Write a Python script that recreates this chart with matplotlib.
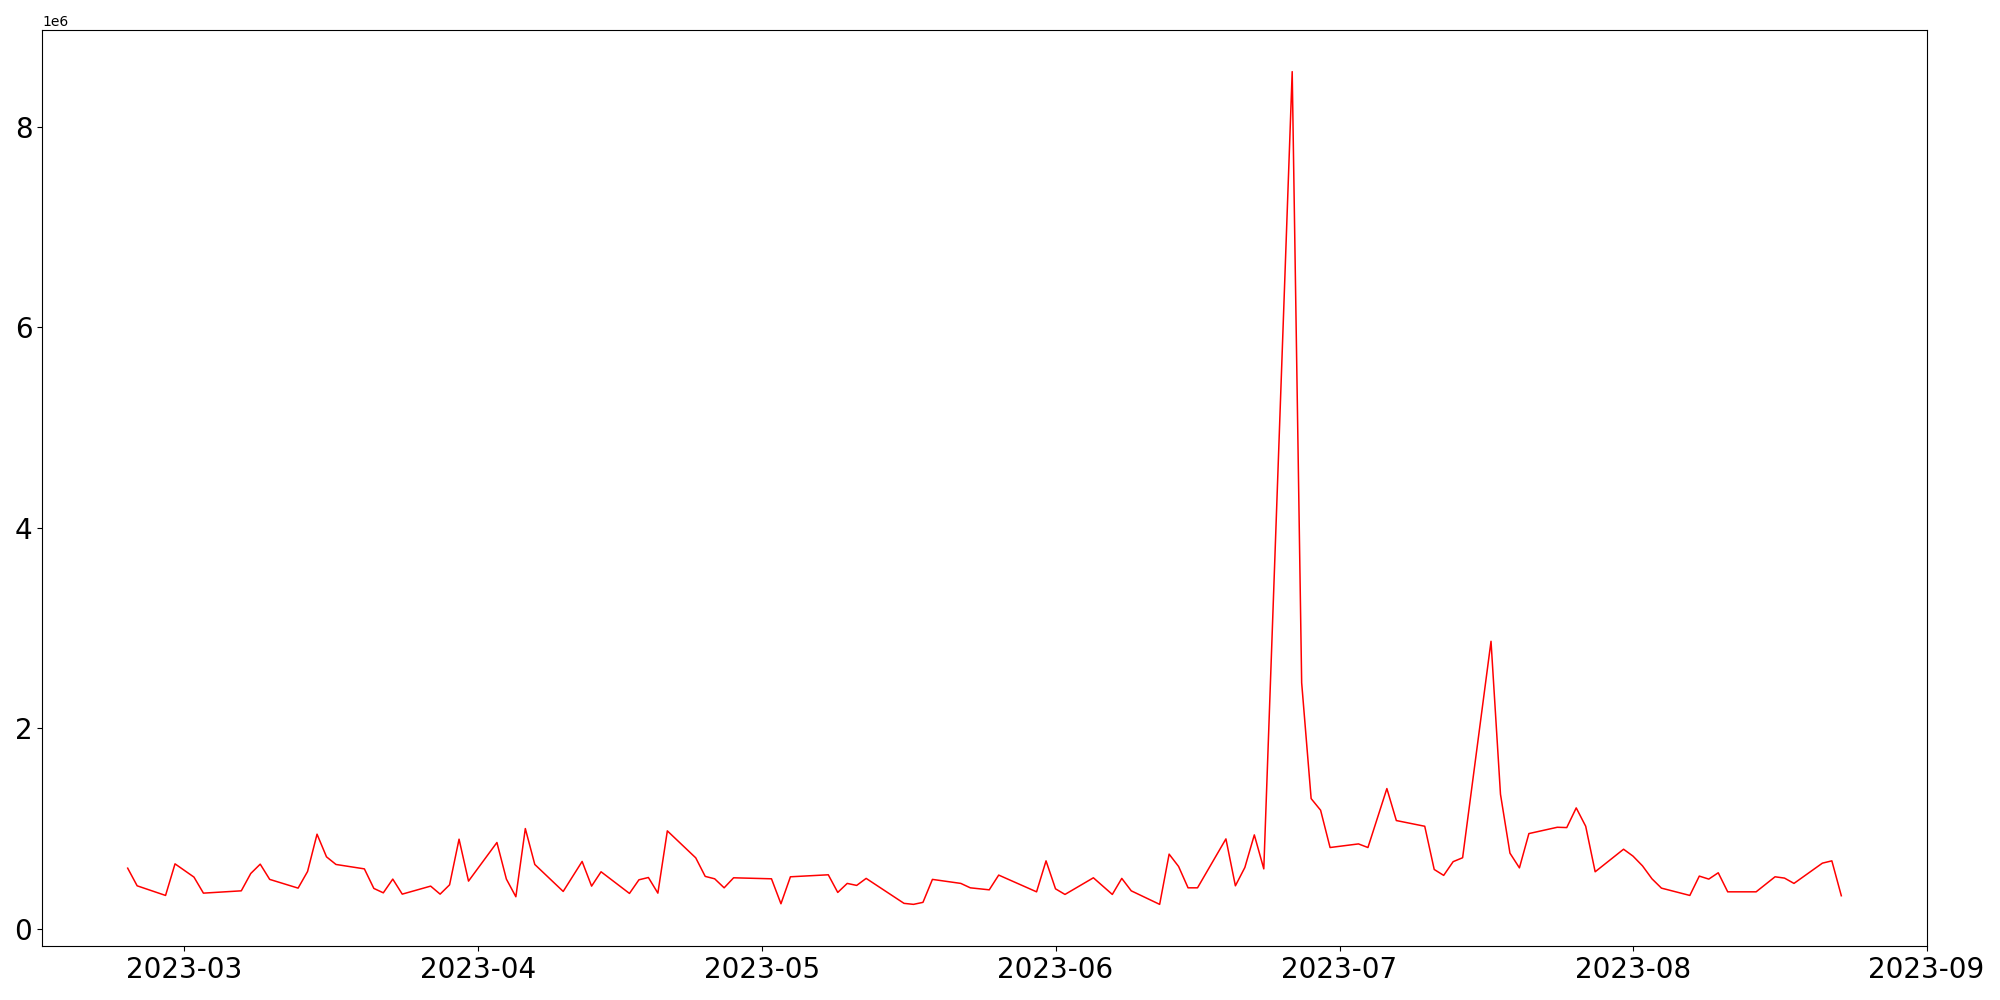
import pandas as pd
import matplotlib
matplotlib.use("Agg")
import matplotlib.pyplot as plt

# daily values (irregular business days)
dates = [
    "2023-02-23", "2023-02-24", "2023-02-27", "2023-02-28", "2023-03-02",
    "2023-03-03", "2023-03-07", "2023-03-08", "2023-03-09", "2023-03-10",
    "2023-03-13", "2023-03-14", "2023-03-15", "2023-03-16", "2023-03-17",
    "2023-03-20", "2023-03-21", "2023-03-22", "2023-03-23", "2023-03-24",
    "2023-03-27", "2023-03-28", "2023-03-29", "2023-03-30", "2023-03-31",
    "2023-04-03", "2023-04-04", "2023-04-05", "2023-04-06", "2023-04-07",
    "2023-04-10", "2023-04-12", "2023-04-13", "2023-04-14", "2023-04-17",
    "2023-04-18", "2023-04-19", "2023-04-20", "2023-04-21", "2023-04-24",
    "2023-04-25", "2023-04-26", "2023-04-27", "2023-04-28", "2023-05-02",
    "2023-05-03", "2023-05-04", "2023-05-08", "2023-05-09", "2023-05-10",
    "2023-05-11", "2023-05-12", "2023-05-16", "2023-05-17", "2023-05-18",
    "2023-05-19", "2023-05-22", "2023-05-23", "2023-05-25", "2023-05-26",
    "2023-05-30", "2023-05-31", "2023-06-01", "2023-06-02", "2023-06-05",
    "2023-06-07", "2023-06-08", "2023-06-09", "2023-06-12", "2023-06-13",
    "2023-06-14", "2023-06-15", "2023-06-16", "2023-06-19", "2023-06-20",
    "2023-06-21", "2023-06-22", "2023-06-23", "2023-06-26", "2023-06-27",
    "2023-06-28", "2023-06-29", "2023-06-30", "2023-07-03", "2023-07-04",
    "2023-07-06", "2023-07-07", "2023-07-10", "2023-07-11", "2023-07-12",
    "2023-07-13", "2023-07-14", "2023-07-17", "2023-07-18", "2023-07-19",
    "2023-07-20", "2023-07-21", "2023-07-24", "2023-07-25", "2023-07-26",
    "2023-07-27", "2023-07-28", "2023-07-31", "2023-08-01", "2023-08-02",
    "2023-08-03", "2023-08-04", "2023-08-07", "2023-08-08", "2023-08-09",
    "2023-08-10", "2023-08-11", "2023-08-14", "2023-08-16", "2023-08-17",
    "2023-08-18", "2023-08-21", "2023-08-22", "2023-08-23",
]
values = [
    606000, 430000, 334000, 649000, 517000,
    357000, 380000, 553000, 646000, 494000,
    407000, 573000, 945000, 719000, 643000,
    599000, 404000, 360000, 497000, 347000,
    427000, 347000, 440000, 895000, 477000,
    862000, 497000, 321000, 1001000, 643000,
    374000, 673000, 427000, 570000, 354000,
    490000, 513000, 357000, 978000, 709000,
    524000, 500000, 410000, 510000, 500000,
    251000, 520000, 540000, 364000, 454000,
    434000, 504000, 255000, 245000, 265000,
    494000, 454000, 410000, 390000, 537000,
    370000, 679000, 400000, 344000, 510000,
    344000, 504000, 380000, 245000, 746000,
    623000, 410000, 410000, 898000, 430000,
    613000, 938000, 599000, 8551000, 2455000,
    1300000, 1184000, 812000, 848000, 812000,
    1400000, 1081000, 1024000, 593000, 534000,
    671000, 710000, 2869000, 1343000, 756000,
    609000, 951000, 1014000, 1011000, 1207000,
    1024000, 570000, 795000, 726000, 629000,
    500000, 407000, 334000, 527000, 497000,
    560000, 370000, 370000, 520000, 507000,
    454000, 656000, 679000, 331000,
]

x = pd.to_datetime(dates)

fig, ax = plt.subplots(figsize=(20, 10), dpi=100)
ax.plot(x, values, color="red", lw=1.1)
ax.tick_params(labelsize=20)
fig.subplots_adjust(left=0.021, right=0.9635, bottom=0.054, top=0.97)
fig.savefig("out.png", dpi=100)
